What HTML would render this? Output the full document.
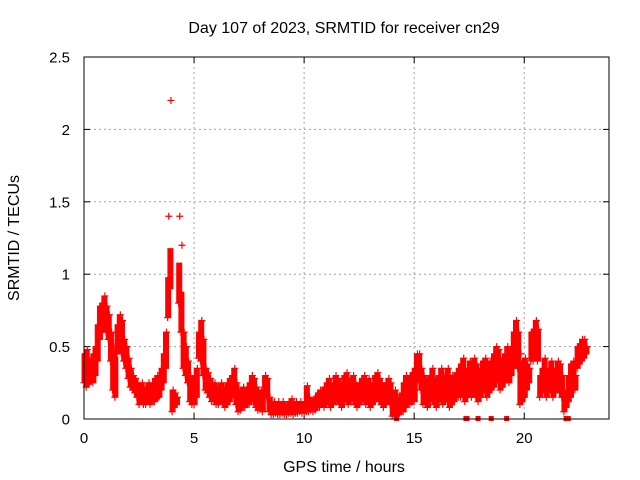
<!DOCTYPE html>
<html><head><meta charset="utf-8"><style>
body{margin:0;background:#fff}
svg{display:block;font-family:"Liberation Sans",sans-serif}
</style></head><body>
<svg id="chart" width="640" height="480">
<text x="344" y="33" text-anchor="middle" font-size="16">Day 107 of 2023, SRMTID for receiver cn29</text>
<text x="344" y="472" text-anchor="middle" font-size="16">GPS time / hours</text>
<text transform="translate(19,238) rotate(-90)" text-anchor="middle" font-size="16">SRMTID / TECUs</text>
<g id="grid"></g><g id="ticks"></g><g id="marks"></g>
<rect x="84" y="57" width="525" height="362" fill="none" stroke="#000" stroke-width="1"/>
</svg>
<script>
const xTicks=[0,5,10,15,20];
const yTicks=[0,0.5,1,1.5,2,2.5];
const yTickLabels=["0","0.5","1","1.5","2","2.5"];
const step=0.1;
const lo=[.25,.22,.24,.28,.25,.3,.4,.55,.6,.62,.6,.55,.4,.2,.15,.45,.5,.45,.4,.35,.28,.22,.2,.18,.15,
.1,.12,.1,.1,.12,.1,.12,.12,.14,.15,.2,.25,.35,.7,.9,.05,.08,.1,.8,.6,.35,.3,.25,.12,.1,.1,.15,.42,.4,.3,
.2,.18,.15,.12,.12,.1,.1,.12,.1,.08,.1,.12,.15,.18,.1,.05,.06,.08,.08,.1,.1,.15,.12,.08,.06,
.08,.05,.15,.15,.05,.03,.03,.04,.03,.03,.04,.03,.03,.04,.04,.03,.04,.04,.05,.04,
.04,.05,.05,.06,.05,.06,.08,.08,.1,.08,
.1,.12,.08,.1,.15,.12,.1,.08,.12,.14,.1,.12,.15,.1,.08,.1,.12,.14,.1,.12,.08,.1,.12,.15,.12,.1,.08,.1,.12,.1,
.02,.02,.02,.03,.05,.05,.08,.1,.1,.12,.12,.25,.3,.2,.1,
.1,.08,.12,.15,.1,.08,.12,.15,.1,.12,.15,.08,.1,.12,.15,
.15,.15,.18,.12,.15,.18,.15,.2,.15,.12,.15,.18,.2,.15,.18,
.2,.22,.25,.28,.2,.22,.25,.28,.25,.3,.35,.4,.35,.1,.12,.15,.2,.25,.4,.4,.45,.4,
.15,.18,.2,.15,.18,.2,.15,.18,.2,.18,.15,.05,.08,.12,.15,.2,.2,.35,.38,.4,.42,.45];
const hi=[.45,.48,.4,.42,.45,.5,.65,.78,.8,.85,.78,.72,.6,.5,.45,.65,.72,.68,.55,.5,.42,.35,.3,.28,.25,
.22,.25,.2,.22,.25,.22,.25,.28,.3,.3,.35,.45,.6,1.4,2.2,.2,.18,.15,1.4,1.2,.6,.5,.4,.3,.25,.3,.35,.6,.68,.55,
.35,.32,.28,.25,.25,.22,.2,.25,.22,.22,.25,.28,.3,.35,.25,.2,.18,.22,.2,.22,.25,.3,.28,.22,.18,
.2,.18,.3,.28,.15,.12,.12,.1,.12,.1,.12,.1,.1,.12,.14,.1,.12,.1,.12,.1,
.12,.23,.15,.12,.14,.15,.18,.2,.2,.22,
.25,.28,.22,.25,.3,.28,.25,.22,.3,.32,.25,.28,.3,.25,.2,.25,.28,.3,.25,.28,.22,.25,.3,.32,.28,.25,.22,.25,.28,.25,
.15,.2,.15,.12,.18,.25,.3,.28,.3,.32,.35,.45,.45,.35,.3,
.28,.25,.3,.35,.28,.25,.3,.35,.3,.28,.35,.25,.3,.28,.32,
.35,.38,.42,.3,.35,.4,.35,.42,.38,.3,.35,.4,.42,.35,.4,
.4,.45,.5,.48,.4,.42,.45,.5,.48,.5,.6,.68,.6,.45,.4,.42,.38,.35,.6,.62,.68,.62,
.3,.35,.42,.3,.35,.4,.3,.35,.4,.38,.3,.15,.2,.3,.38,.4,.3,.5,.52,.55,.55,.5];
const zeroTimes=[14.2,17.35,17.4,17.9,18.5,19.2,21.9,21.95,22.0];
const xMax=23.85, yMax=2.5;
const X=v=>84+v/xMax*525, Y=v=>419-v/yMax*362;
const NS="http://www.w3.org/2000/svg";
const grid=document.getElementById('grid'),ticks=document.getElementById('ticks'),marks=document.getElementById('marks');
function mk(tag,attrs,parent){const e=document.createElementNS(NS,tag);for(const k in attrs)e.setAttribute(k,attrs[k]);parent.appendChild(e);return e;}
xTicks.forEach((t,i)=>{const x=X(t);
 if(t>0){const g=mk('line',{x1:x,x2:x,y1:57,y2:419,stroke:'#a0a0a0','stroke-dasharray':'2,3'},grid);
 
 }
 mk('line',{x1:x,x2:x,y1:419,y2:413,stroke:'#000'},ticks);mk('line',{x1:x,x2:x,y1:57,y2:63,stroke:'#000'},ticks);
 const tx=mk('text',{x:x,y:443,'text-anchor':'middle','font-size':'15'},ticks);tx.textContent=String(t);
 
 });
yTicks.forEach((t,i)=>{const y=Y(t);
 if(t>0&&t<yMax){const g=mk('line',{x1:84,x2:609,y1:y,y2:y,stroke:'#a0a0a0','stroke-dasharray':'2,3'},grid);
 
 }
 mk('line',{x1:84,x2:90,y1:y,y2:y,stroke:'#000'},ticks);mk('line',{x1:609,x2:603,y1:y,y2:y,stroke:'#000'},ticks);
 const tx=mk('text',{x:70,y:y+5.5,'text-anchor':'end','font-size':'15'},ticks);tx.textContent=yTickLabels[i];
 
 });
function cross(t,v,color){const x=X(t),y=Y(v),s=3.5;
 const p=mk('path',{d:`M${x-s},${y}H${x+s}M${x},${y-s}V${y+s}`,stroke:color,'stroke-width':'1.2',fill:'none'},marks);
 
 }
function band(t,a,b){const x=X(t+step*0.25),y1=Y(b),y2=Y(a);
 const r=mk('rect',{x:x-3,y:y1,width:6,height:Math.max(1,y2-y1),fill:'#ff0000'},marks);
 
 }
lo.forEach((v,i)=>{const t=i*step;
 const top=Math.min(hi[i],v+0.28);
 band(t,v,top);
 cross(t,v,'#ff0000');cross(t+step*0.5,hi[i],'#ff0000');});
zeroTimes.forEach(t=>{const r=mk('rect',{x:X(t)-2.5,y:Y(0)-3,width:5,height:5,fill:'#ff0000'},marks);
 
 });
</script>
</body></html>
